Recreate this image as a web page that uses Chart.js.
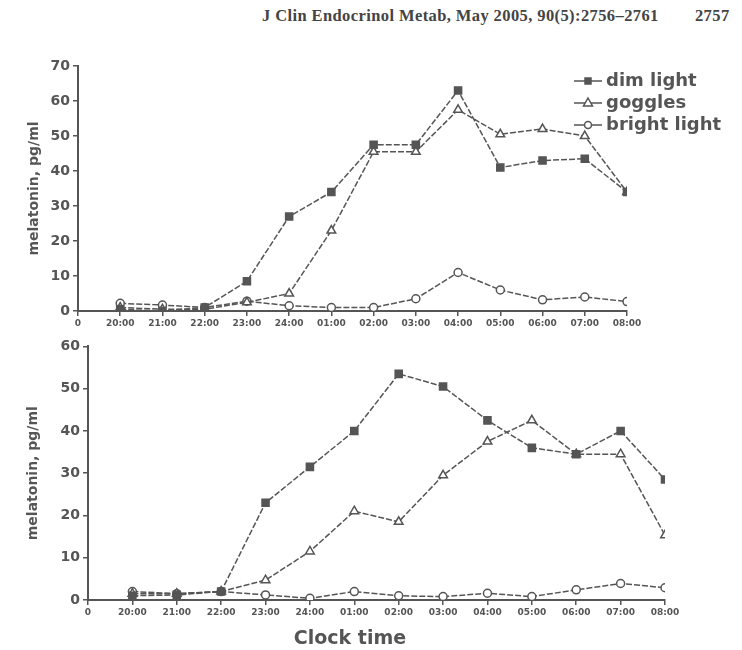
<!DOCTYPE html>
<html><head><meta charset="utf-8">
<script src="https://cdn.jsdelivr.net/npm/chart.js@4.4.1/dist/chart.umd.min.js"></script>
<style>
body{margin:0;background:#fff;width:742px;height:650px;overflow:hidden;position:relative;}
#hdr{position:absolute;left:262px;top:6px;font:bold 16.5px "Liberation Serif",serif;color:#444;white-space:pre;letter-spacing:0.4px;}
#xt{position:absolute;left:250px;width:200px;text-align:center;top:626px;font:bold 19px "DejaVu Sans",sans-serif;color:#555;}
#c1{position:absolute;left:0;top:0;}
#c2{position:absolute;left:0;top:335px;}
</style></head><body>
<div id="hdr">J Clin Endocrinol Metab, May 2005, 90(5):2756–2761        2757</div>
<canvas id="c1" width="742" height="335"></canvas>
<canvas id="c2" width="742" height="315"></canvas>
<div id="xt">Clock time</div>
<script>
// ---- data ----
const clockTimes = ['20:00','21:00','22:00','23:00','24:00','01:00','02:00','03:00','04:00','05:00','06:00','07:00','08:00'];
const sampleIndex = [1,2,3,4,5,6,7,8,9,10,11,12,13];
const seriesNames = ['dim light','goggles','bright light'];
const topDim     = [0.5, 0, 1, 8.5, 27, 34, 47.5, 47.5, 63, 41, 43, 43.5, 34];
const topGoggles = [1, 0.5, 0.5, 2.5, 5, 23, 45.5, 45.5, 57.5, 50.5, 52, 50, 34];
const topBright  = [2.2, 1.7, 1, 2.8, 1.5, 1, 1, 3.5, 11, 6, 3.2, 4, 2.7];
const botDim     = [1, 1.2, 2, 23, 31.5, 40, 53.5, 50.5, 42.5, 36, 34.5, 40, 28.5];
const botGoggles = [1.5, 1.5, 2, 4.7, 11.5, 21, 18.5, 29.5, 37.5, 42.5, 34.5, 34.5, 15.3];
const botBright  = [2, 1.5, 2, 1.2, 0.4, 2, 1, 0.8, 1.6, 0.8, 2.4, 3.9, 2.9];
const topYTicks = {min:0, max:70, step:10};
const botYTicks = {min:0, max:60, step:10};

// ---- styling ----
const INK = '#555';
const styles = [
  {pointStyle:'rect', pointRadius:5, pointBackgroundColor:INK},
  {pointStyle:'triangle', pointRadius:5, pointBackgroundColor:'#fff'},
  {pointStyle:'circle', pointRadius:4, pointBackgroundColor:'#fff'}
];
function makeDatasets(arrs){
  return arrs.map((vals,i)=>Object.assign({
    label: seriesNames[i],
    data: sampleIndex.map((x,j)=>({x:x, y:vals[j]})),
    borderColor: INK, borderWidth: 1.5, borderDash:[6,2],
    pointBorderColor: INK, pointBorderWidth: 1.5,
    tension: 0, fill:false
  }, styles[i]));
}
function xScale(h){
  return {
    type:'linear', min:0, max:13,
    afterFit:s=>{s.height=h;},
    border:{color:INK,width:2},
    grid:{drawOnChartArea:false, tickLength:5, color:INK, lineWidth:1.5},
    ticks:{stepSize:1, autoSkip:false, maxRotation:0, padding:2, color:INK,
      font:{family:'DejaVu Sans', weight:'bold', size:9},
      callback:v=> v===0 ? '0' : clockTimes[v-1]}
  };
}
function yScale(t, w, tpad){
  return {
    min:t.min, max:t.max,
    afterFit:s=>{s.width=w;},
    border:{color:INK,width:2},
    grid:{drawOnChartArea:false, tickLength:5, color:INK, lineWidth:1.5},
    ticks:{stepSize:t.step, padding:3, color:INK, font:{family:'DejaVu Sans', weight:'bold', size:14}},
    title:{display:true, text:'melatonin, pg/ml', color:INK, padding:{top:tpad,bottom:0},
      font:{family:'DejaVu Sans', weight:'bold', size:14}}
  };
}
const legendPlugin = {
  id:'customLegend',
  afterDraw(chart){
    const ctx = chart.ctx; ctx.save();
    const x0 = 574, ys = [81,103,125];
    chart.data.datasets.forEach((ds,i)=>{
      const y = ys[i];
      ctx.strokeStyle = INK; ctx.lineWidth = 1.5;
      ctx.beginPath(); ctx.moveTo(x0,y); ctx.lineTo(x0+28,y); ctx.stroke();
      const cx = x0+14;
      ctx.fillStyle = ds.pointBackgroundColor;
      ctx.beginPath();
      if (ds.pointStyle==='rect'){ ctx.rect(cx-3,y-3,6,6); }
      else if (ds.pointStyle==='triangle'){ ctx.moveTo(cx,y-5); ctx.lineTo(cx+4.5,y+3); ctx.lineTo(cx-4.5,y+3); ctx.closePath(); }
      else { ctx.arc(cx,y,3.5,0,Math.PI*2); }
      ctx.fill(); ctx.stroke();
      ctx.fillStyle = INK; ctx.font = 'bold 18px "DejaVu Sans"';
      ctx.textBaseline = 'middle'; ctx.textAlign='left';
      ctx.fillText(ds.label, x0+32, y);
    });
    ctx.restore();
  }
};

new Chart(document.getElementById('c1'), {
  type:'line',
  data:{datasets: makeDatasets([topDim, topGoggles, topBright])},
  options:{
    responsive:false, animation:false,
    layout:{padding:{left:0, top:66, right:115, bottom:0}},
    plugins:{legend:{display:false}, tooltip:{enabled:false}},
    scales:{ x: xScale(24), y: yScale(topYTicks, 78, 26) }
  },
  plugins:[legendPlugin]
});
new Chart(document.getElementById('c2'), {
  type:'line',
  data:{datasets: makeDatasets([botDim, botGoggles, botBright])},
  options:{
    responsive:false, animation:false,
    layout:{padding:{left:0, top:10, right:77, bottom:0}},
    plugins:{legend:{display:false}, tooltip:{enabled:false}},
    scales:{ x: xScale(50), y: yScale(botYTicks, 88, 25) }
  }
});
</script>
</body></html>
